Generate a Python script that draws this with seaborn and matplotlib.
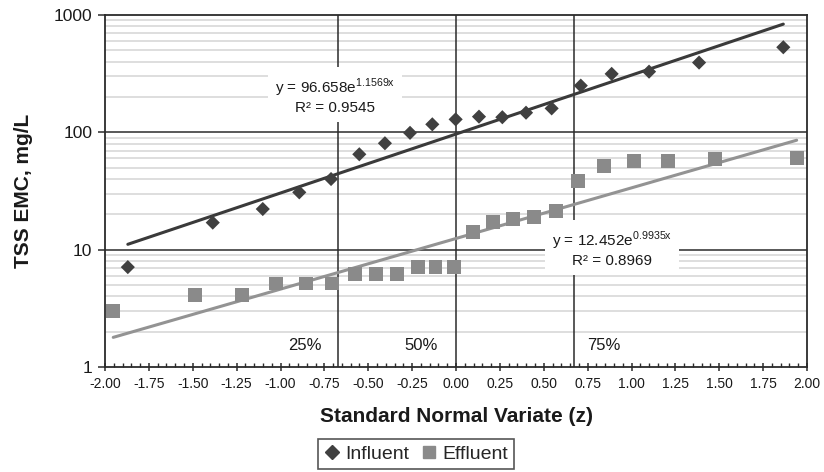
import numpy as np
import pandas as pd
import matplotlib
matplotlib.use("Agg")
import matplotlib.pyplot as plt
from matplotlib.lines import Line2D
from matplotlib.ticker import FixedLocator, MultipleLocator, FormatStrFormatter, NullFormatter
import seaborn as sns

# ---------------- data ----------------
influent_z = [-1.870, -1.386, -1.101, -0.893, -0.712, -0.551, -0.405, -0.262, -0.135,
              -0.002, 0.131, 0.264, 0.399, 0.545, 0.711, 0.887, 1.100, 1.385, 1.865]
influent_v = [7.1, 17, 22.2, 30.8, 40, 65, 80.7, 99, 117,
              129, 136, 134.5, 147, 160, 250, 315, 329, 393, 531]

effluent_z = [-1.953, -1.487, -1.221, -1.026, -0.855, -0.708, -0.575, -0.456, -0.334,
              -0.218, -0.117, -0.013, 0.095, 0.213, 0.327, 0.444, 0.568, 0.697, 0.843,
              1.016, 1.210, 1.476, 1.941]
effluent_v = [3.0, 4.1, 4.1, 5.15, 5.15, 5.15, 6.15, 6.15, 6.15,
              7.15, 7.15, 7.15, 14.2, 17.3, 18.3, 19.1, 21.5, 38.7, 51.7,
              57, 57, 59, 60.9]

# exponential trendline coefficients (as printed on the chart)
infl_a, infl_b, infl_r2 = 96.658, 1.1569, 0.9545
effl_a, effl_b, effl_r2 = 12.452, 0.9935, 0.8969

quartile_z = [-0.674, 0.0, 0.674]
quartile_labels = ["25%", "50%", "75%"]
quartile_label_z = [-0.86, -0.20, 0.84]

x_ticks = np.arange(-2.0, 2.001, 0.25)
y_ticks = [1, 10, 100, 1000]

# ---------------- style ----------------
sns.set_style("white")
plt.rcParams["font.family"] = ["Liberation Sans", "DejaVu Sans"]
plt.rcParams["axes.unicode_minus"] = False

fig = plt.figure(figsize=(8.24, 4.72), dpi=100)
ax = fig.add_axes([105 / 824, 1 - 367 / 472, 702 / 824, 352 / 472])

ax.set_yscale("log")
ax.set_xlim(-2.0, 2.0)
ax.set_ylim(1, 1000)

# grid: minor horizontal light gray, major dark
minor_y = [m * 10 ** d for d in range(0, 3) for m in range(2, 10)]
for yv in minor_y:
    ax.axhline(yv, color="#d8d8d8", lw=1.2, zorder=1)
for yv in [10, 100]:
    ax.axhline(yv, color="#2b2b2b", lw=1.1, zorder=2)
for zq in quartile_z:
    ax.axvline(zq, color="#2b2b2b", lw=1.1, zorder=2)

# trend lines (from printed coefficients)
xi = np.linspace(min(influent_z), max(influent_z), 80)
xe = np.linspace(min(effluent_z), max(effluent_z), 80)
trend = pd.DataFrame({
    "z": np.concatenate([xi, xe]),
    "v": np.concatenate([infl_a * np.exp(infl_b * xi), effl_a * np.exp(effl_b * xe)]),
    "series": ["Influent"] * len(xi) + ["Effluent"] * len(xe),
})
sns.lineplot(data=trend[trend.series == "Influent"], x="z", y="v", color="#3a3a3a",
             lw=2.2, ax=ax, legend=False, zorder=3)
sns.lineplot(data=trend[trend.series == "Effluent"], x="z", y="v", color="#939393",
             lw=2.2, ax=ax, legend=False, zorder=3)

# points
df_in = pd.DataFrame({"z": influent_z, "v": influent_v})
df_ef = pd.DataFrame({"z": effluent_z, "v": effluent_v})
sns.scatterplot(data=df_in, x="z", y="v", marker="D", s=52, color="#404040",
                edgecolor="none", ax=ax, zorder=5, legend=False)
sns.scatterplot(data=df_ef, x="z", y="v", marker="s", s=100, color="#8a8a8a",
                edgecolor="none", ax=ax, zorder=5, legend=False)

# equation boxes
box = dict(boxstyle="square,pad=0.45", facecolor="white", edgecolor="none")
ax.text(-0.689, 10 ** ((367 - 96) / 117.3),
        "y = %.3fe$^{\\mathregular{%.4fx}}$\nR² = %.4f" % (infl_a, infl_b, infl_r2),
        ha="center", va="center", fontsize=11, color="#1a1a1a", linespacing=1.25,
        bbox=box, zorder=4)
ax.text(0.889, 10 ** ((367 - 249) / 117.3),
        "y = %.3fe$^{\\mathregular{%.4fx}}$\nR² = %.4f" % (effl_a, effl_b, effl_r2),
        ha="center", va="center", fontsize=11, color="#1a1a1a", linespacing=1.25,
        bbox=box, zorder=4)

for zl, lab in zip(quartile_label_z, quartile_labels):
    ax.text(zl, 1.52, lab, ha="center", va="center", fontsize=12, color="#1a1a1a", zorder=4)

# axes / ticks
for sp in ax.spines.values():
    sp.set_color("#2b2b2b")
    sp.set_linewidth(1.3)
    sp.set_zorder(6)

ax.xaxis.set_major_locator(FixedLocator(x_ticks))
ax.xaxis.set_major_formatter(FormatStrFormatter("%.2f"))
ax.xaxis.set_minor_locator(MultipleLocator(0.05))
ax.yaxis.set_major_locator(FixedLocator(y_ticks))
ax.yaxis.set_major_formatter(FormatStrFormatter("%d"))
ax.yaxis.set_minor_locator(FixedLocator([]))
ax.yaxis.set_minor_formatter(NullFormatter())

ax.tick_params(axis="x", which="major", direction="inout", length=6, width=1.1,
               colors="#2b2b2b", labelsize=10, pad=4, labelcolor="#1a1a1a", bottom=True)
ax.tick_params(axis="x", which="minor", direction="in", length=3, width=1.0,
               colors="#2b2b2b", bottom=True)
ax.tick_params(axis="y", which="major", direction="out", length=5, width=1.1,
               colors="#2b2b2b", labelsize=12.5, pad=4, labelcolor="#1a1a1a", left=True)

ax.set_xlabel("Standard Normal Variate (z)", fontsize=15, fontweight="bold", color="#1a1a1a")
ax.set_ylabel("TSS EMC, mg/L", fontsize=15, fontweight="bold", color="#1a1a1a")
ax.xaxis.set_label_coords(0.5, -0.115)
ax.yaxis.set_label_coords(-0.1026, 0.5)

handles = [
    Line2D([], [], ls="none", marker="D", markersize=7.5, color="#404040", label="Influent"),
    Line2D([], [], ls="none", marker="s", markersize=9, color="#8a8a8a", label="Effluent"),
]
leg = fig.legend(handles=handles, loc="center", bbox_to_anchor=(416 / 824, 1 - 454 / 472),
                 ncol=2, frameon=True, fancybox=False, edgecolor="#2b2b2b",
                 fontsize=14, handlelength=0.8, handletextpad=0.3, columnspacing=0.6,
                 borderpad=0.3, borderaxespad=0)
leg.get_frame().set_linewidth(1.2)

fig.savefig("out.png", dpi=100)
